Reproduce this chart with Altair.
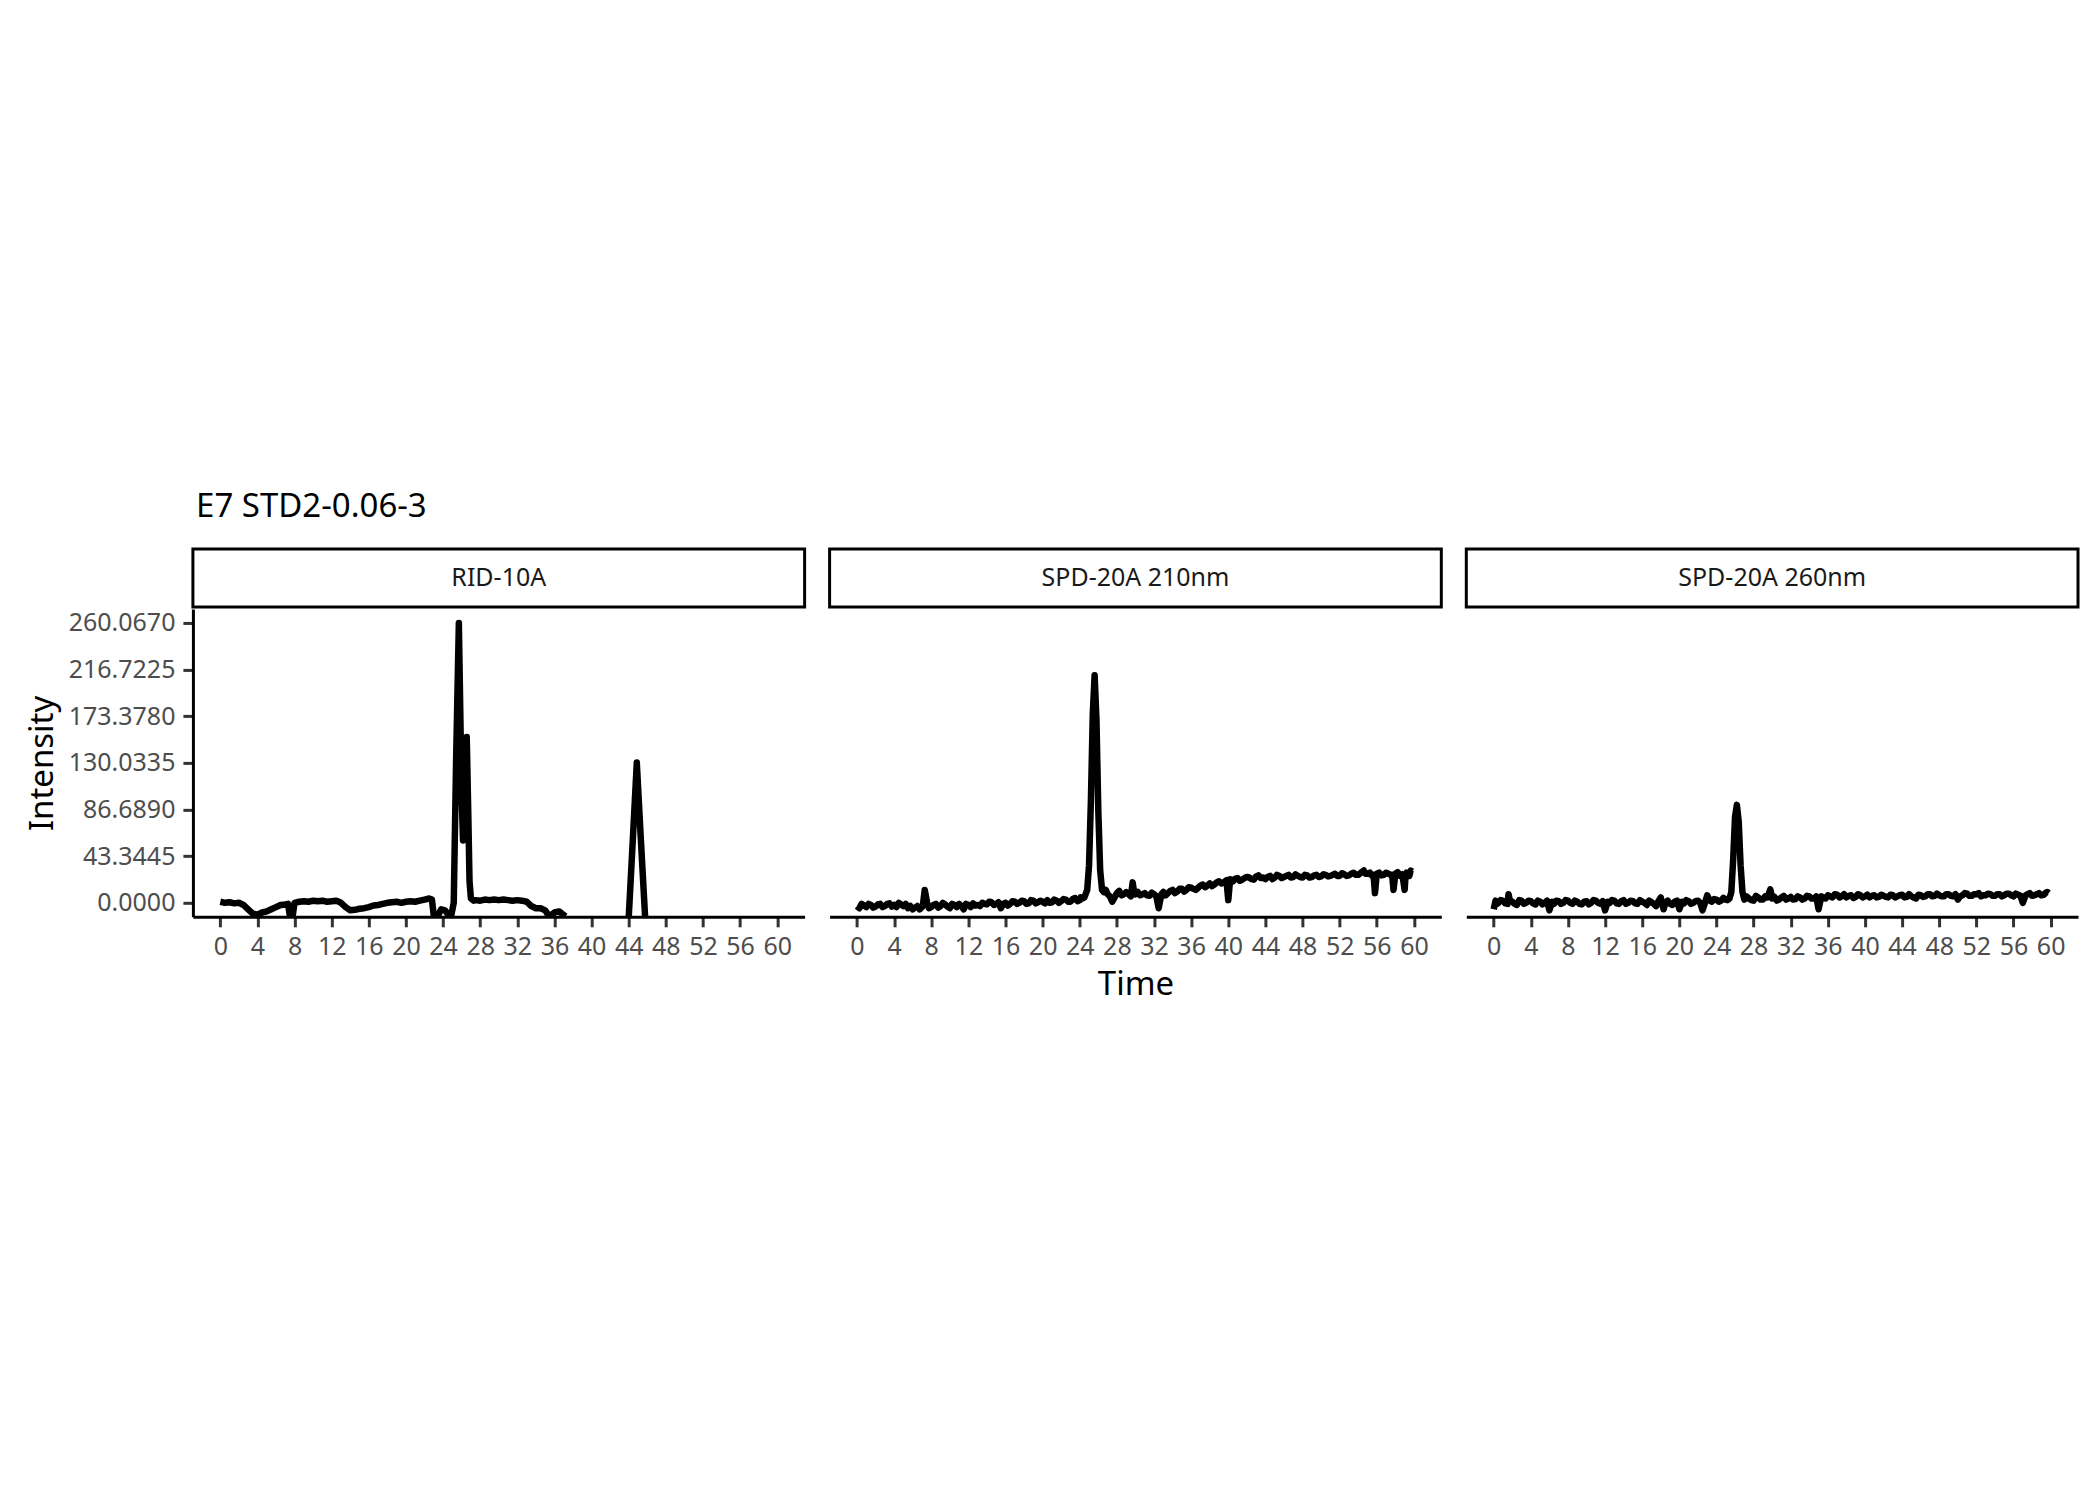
import altair as alt
import pandas as pd

FONT = "Noto Sans"

TITLE = "E7 STD2-0.06-3"
PANELS = ["RID-10A", "SPD-20A 210nm", "SPD-20A 260nm"]
X_TICKS = [0, 4, 8, 12, 16, 20, 24, 28, 32, 36, 40, 44, 48, 52, 56, 60]
Y_TICKS = [0.0, 43.3445, 86.689, 130.0335, 173.378, 216.7225, 260.067]

# RID-10A (two visible pieces; the rest lies below the plotted range)
RID_T = [0.0, 0.5, 1.0, 1.5, 2.0, 2.5, 3.0, 3.5, 4.0, 4.5, 5.0, 5.5, 6.0, 6.5, 7.0, 7.3, 7.5, 7.8,
         8.0, 8.5, 9.0, 9.5, 10.0, 10.5, 11.0, 11.5, 12.0, 12.5, 13.0, 13.5, 14.0, 14.5, 15.0, 15.5,
         16.0, 16.5, 17.0, 17.5, 18.0, 18.5, 19.0, 19.5, 20.0, 20.5, 21.0, 21.5, 22.0, 22.5, 22.8,
         23.0, 23.5, 23.8, 24.2, 24.6, 24.9, 25.15, 25.4, 25.7, 25.85, 26.0, 26.15, 26.3, 26.55,
         26.7, 26.85, 27.0, 27.3, 27.5, 28.0, 28.5, 29.0, 29.5, 30.0, 30.5, 31.0, 31.5, 32.0, 32.5,
         33.0, 33.5, 34.0, 34.5, 35.0, 35.3, 35.7, 36.0, 36.5, 36.8, 37.2,
         44.0, 44.45, 44.87, 45.3, 45.77]
RID_V = [1, 0, 0.5, -0.5, 0, -2, -6, -10, -11, -9, -8, -6, -4, -2, -1.5, -1, -12.5, -12,
         0, 1, 1.5, 1, 2, 1.5, 2, 1, 1.5, 2, 0, -4, -7, -6.5, -5.5, -5,
         -4, -2.5, -2, -1, 0, 0.5, 1, 0, 1, 1.5, 1, 2, 3, 4, 3,
         -12, -11, -6, -7, -11.5, -11, 0, 130, 260.067, 180, 100, 58, 100, 154,
         90, 20, 4, 2, 2.5, 2, 3, 2.5, 3, 2.5, 3, 2.5, 2, 2.5, 2,
         1, -3, -5, -5, -7, -11, -11, -9, -8, -10, -12.5,
         -13.5, 60, 130.3, 60, -13.5]
RID_SEG = [1] * 89 + [2] * 5

# SPD-20A 210nm
S210_T = [0.0, 0.5, 1.0, 1.5, 2.0, 2.5, 3.0, 3.5, 4.0, 4.5, 5.0, 5.5, 6.0, 6.5, 7.0, 7.3, 7.6,
          8.0, 8.5, 9.0, 9.5, 10.0, 10.5, 11.0, 11.5, 12.0, 12.5, 13.0, 13.5, 14.0, 14.5, 15.0,
          15.5, 16.0, 16.5, 17.0, 17.5, 18.0, 18.5, 19.0, 19.5, 20.0, 20.5, 21.0, 21.5, 22.0,
          22.5, 23.0, 23.5, 24.0, 24.3, 24.5, 24.8, 25.0, 25.2, 25.4, 25.6, 25.8, 26.0, 26.2,
          26.4, 26.6, 27.0, 27.5, 28.0, 28.5, 29.0, 29.5, 29.7, 30.0, 30.5, 31.0, 31.5, 32.0,
          32.5, 32.8, 33.0, 33.5, 34.0, 34.5, 35.0, 35.5, 36.0, 36.5, 37.0, 37.5, 38.0, 38.5,
          39.0, 39.5, 39.8, 40.0, 40.2, 40.5, 41.0, 41.5, 42.0, 42.5, 43.0, 43.5, 44.0, 44.5,
          45.0, 45.5, 46.0, 46.5, 47.0, 47.5, 48.0, 48.5, 49.0, 49.5, 50.0, 50.5, 51.0, 51.5,
          52.0, 52.5, 53.0, 53.5, 54.0, 54.6, 55.0, 55.5, 55.8, 56.0, 56.5, 57.0, 57.5, 57.8,
          58.0, 58.5, 59.0, 59.2, 59.5, 59.8]
S210_V = [-3, -1, -4, -2, -3.5, -1, -3, -0.5, -2, 0, -3, -5, -6, -3, -4, 12, -2,
          -4, -1, -3, -1.5, -5, -2, -1, -6, -2, -0.5, -2, 0, -1.5, 0.5, -1,
          -5, 0, -1, 1, 0, 1.5, -0.5, 2, 0.5, 1, 2.5, 0.5, 2, 1.5,
          3, 1, 4.5, 2.5, 4, 5, 12, 35, 95, 175, 211.5, 170, 85, 30,
          12, 10, 8, 1, 9, 7, 10, 6, 19, 8, 7, 9, 6.5, 8,
          -5, 8, 10, 9, 12, 10.5, 13, 12, 14, 12, 16, 14.5, 18, 17,
          20, 19, 21, 2.5, 22, 20, 23, 21.5, 24, 22, 24.5, 23, 22, 25,
          23.5, 25, 24, 26, 24, 25, 23.5, 25.5, 24, 26, 24.5, 26, 25, 27,
          25, 26.5, 25.5, 28, 26, 30, 27, 25, 9, 27, 25.5, 28, 26, 12,
          27, 25, 12, 28, 25, 29]
# in-between readings of the noisy 210nm baseline
S210_T2 = [0.25, 0.75, 1.25, 1.75, 2.25, 2.75, 3.25, 3.75, 4.25, 4.75, 5.25, 5.75, 6.25, 6.75,
           7.1, 7.75, 8.25, 8.75, 9.25, 9.75, 10.25, 10.75, 11.25, 11.75, 12.25, 12.75, 13.25,
           13.75, 14.25, 14.75, 15.25, 15.75, 16.25, 16.75, 17.25, 17.75, 18.25, 18.75, 19.25,
           19.75, 20.25, 20.75, 21.25, 21.75, 22.25, 22.75, 23.25, 23.75, 24.1,
           26.8, 27.25, 27.75, 28.25, 28.75, 29.25, 29.85, 30.25, 30.75, 31.25, 31.75, 32.25,
           33.25, 33.75, 34.25, 34.75, 35.25, 35.75, 36.25, 36.75, 37.25, 37.75, 38.25, 38.75,
           39.25, 39.65, 40.35, 40.75, 41.25, 41.75, 42.25, 42.75, 43.25, 43.75, 44.25, 44.75,
           45.25, 45.75, 46.25, 46.75, 47.25, 47.75, 48.25, 48.75, 49.25, 49.75, 50.25, 50.75,
           51.25, 51.75, 52.25, 52.75, 53.25, 53.75, 54.3, 54.8, 55.25, 55.65, 56.25, 56.75,
           57.25, 57.65, 58.25, 58.75, 59.1, 59.35, 59.65]
S210_V2 = [-5, -2.5, -1, -4.5, -1.5, -4, -1, -3.5, -4, -1.5, -1, -3, -4.5, -6,
           -2, -5, -2, -4.5, 0, -3.5, -1, -4, -3, -1, -4, -2.5, -3,
           -1, 1, -2, 0.5, -1, -2.5, 1.5, -1, 2, -1, 2.5, -0.5,
           2, -0.5, 0, 3, 0, 3.5, 1, 3.5, 1.5, 5,
           12, 6, 5, 11, 8, 8, 10, 10, 8, 7, 9.5, 6,
           7, 11, 9, 13, 10.5, 14.5, 13, 14, 17, 16, 15.5, 19,
           18, 20, 21, 22.5, 20.5, 23, 23.5, 21.5, 25.5, 23.5, 24, 22,
           26, 23, 25, 23.5, 26.5, 24, 26, 23.5, 25.5, 24, 26.5, 24.5,
           26, 25, 27.5, 25, 27, 26, 28, 27, 28, 26, 28, 26,
           27, 26, 28.5, 26.5, 26, 27, 30]

# SPD-20A 260nm
S260_T = [0.0, 0.2, 0.5, 1.0, 1.5, 1.6, 2.0, 2.5, 3.0, 3.5, 4.0, 4.5, 5.0, 5.5, 6.0, 6.3, 6.5,
          7.0, 7.5, 8.0, 8.5, 9.0, 9.5, 10.0, 10.5, 11.0, 11.5, 12.0, 12.3, 12.5, 13.0, 13.5,
          14.0, 14.5, 15.0, 15.5, 16.0, 16.5, 17.0, 17.5, 18.0, 18.3, 18.5, 19.0, 19.5, 20.0,
          20.3, 20.5, 21.0, 21.5, 22.0, 22.5, 22.8, 23.0, 23.3, 23.5, 24.0, 24.5, 25.0, 25.4,
          25.6, 25.8, 26.0, 26.2, 26.4, 26.6, 26.8, 27.0, 27.5, 28.0, 28.5, 29.0, 29.5, 29.8,
          30.0, 30.5, 31.0, 31.5, 32.0, 32.5, 33.0, 33.5, 34.0, 34.5, 35.0, 35.3, 35.5, 36.0,
          36.5, 37.0, 37.5, 38.0, 38.5, 39.0, 39.5, 40.0, 40.5, 41.0, 41.5, 42.0, 42.5, 43.0,
          43.5, 44.0, 44.5, 45.0, 45.5, 46.0, 46.5, 47.0, 47.5, 48.0, 48.5, 49.0, 49.5, 50.0,
          50.5, 51.0, 51.5, 52.0, 52.5, 53.0, 53.5, 54.0, 54.5, 55.0, 55.5, 56.0, 56.5, 57.0,
          57.3, 57.5, 58.0, 58.5, 59.0, 59.5, 59.8]
S260_V = [-6, 2, 0, 2, -1, 8, 1, -2, 2, 0, 1.5, -1.5, 1, 0, -7, 1, -1,
          1.5, 0, 2, -1, 1, -1.5, 1.5, 0, 2, -1, -7, 1, 0, 2, -1,
          2.5, 0, 1.5, -1, 1, -2, 0.5, -3, 5, -6, 0, -1, 1, -6,
          1, -0.5, 1.5, 0, 2, -7, 1, 7, 2, 1, 3, 2, 3, 4,
          10, 40, 80, 91, 75, 35, 10, 3, 4, 2, 5, 3, 5, 12.5,
          4, 2, 5, 3, 5.5, 3.5, 5, 4, 6, 4, -6, 6, 5, 7,
          5, 7.5, 6, 5, 7, 5.5, 7, 6, 5, 7, 5.5, 6.5, 5, 7,
          6, 7.5, 5.5, 6, 4, 7, 6, 8, 6.5, 7, 6, 8, 6, 3,
          7, 8.5, 6.5, 8, 6, 7, 8, 6.5, 8, 7, 8.5, 6, 7.5, 0,
          7, 8, 6.5, 8, 7, 9.5, 9]
# in-between readings of the noisy 260nm baseline
S260_T2 = [0.35, 0.75, 1.25, 1.75, 2.25, 2.75, 3.25, 3.75, 4.25, 4.75, 5.25, 5.75, 6.75, 7.25,
           7.75, 8.25, 8.75, 9.25, 9.75, 10.25, 10.75, 11.25, 11.75, 12.75, 13.25, 13.75, 14.25,
           14.75, 15.25, 15.75, 16.25, 16.75, 17.25, 17.75, 18.75, 19.25, 19.75, 20.75, 21.25,
           21.75, 22.25, 23.75, 24.25, 24.75, 25.2,
           27.25, 27.75, 28.25, 28.75, 29.25, 30.25, 30.75, 31.25, 31.75, 32.25, 32.75, 33.25,
           33.75, 34.25, 34.75, 35.75, 36.25, 36.75, 37.25, 37.75, 38.25, 38.75, 39.25, 39.75,
           40.25, 40.75, 41.25, 41.75, 42.25, 42.75, 43.25, 43.75, 44.25, 44.75, 45.25, 45.75,
           46.25, 46.75, 47.25, 47.75, 48.25, 48.75, 49.25, 49.75, 50.25, 50.75, 51.25, 51.75,
           52.25, 52.75, 53.25, 53.75, 54.25, 54.75, 55.25, 55.75, 56.25, 56.75, 57.75, 58.25,
           58.75, 59.25, 59.65]
S260_V2 = [-1, 2.5, -0.5, 2, -1, 2.5, -1, 2, -0.5, 2, -1.5, 2, 2, -1,
           2.5, 0, 2, -1, 1, -1.5, 2.5, 0, 1.5, 2.5, -0.5, 1.5, -1,
           2, -0.5, 2.5, 0, 2, -1, 1.5, 2, -2, 2, 2.5, -1,
           1.5, 0, 3.5, 1, 4.5, 2.5,
           6, 2.5, 6.5, 3, 6, 5.5, 3, 6.5, 4, 3, 6, 3,
           6.5, 4, 6, 4, 6, 8, 5, 8, 6.5, 4.5, 8, 5,
           7.5, 6.5, 5, 7.5, 5.5, 7.5, 5, 7, 5, 8, 5, 7.5,
           5.5, 8, 6, 8.5, 6, 8, 6.5, 8, 6, 9, 6.5, 8,
           9, 7, 8.5, 6.5, 8, 6, 8.5, 7, 8.5, 6.5, 9, 7,
           9, 7.5, 10]

W = 612
PH = 308
SH = 58
X_DOMAIN = [-2.95, 62.95]
Y_DOMAIN = [-13.0, 273.07]

frames = [
    pd.DataFrame({"Time": RID_T, "Intensity": RID_V, "seg": RID_SEG}),
    pd.DataFrame({"Time": S210_T + S210_T2, "Intensity": S210_V + S210_V2,
                  "seg": [1] * (len(S210_T) + len(S210_T2))}),
    pd.DataFrame({"Time": S260_T + S260_T2, "Intensity": S260_V + S260_V2,
                  "seg": [1] * (len(S260_T) + len(S260_T2))}),
]


def make_panel(i):
    label = PANELS[i]
    strip = (
        alt.Chart(pd.DataFrame({"label": [label]}))
        .mark_text(font=FONT, fontSize=25, color="#1A1A1A", baseline="middle", align="center")
        .encode(text="label:N", x=alt.value(W / 2), y=alt.value(SH / 2))
        .properties(width=W, height=SH,
                    view=alt.ViewBackground(stroke="black", strokeWidth=3, fill="white"))
    )
    x_axis = alt.Axis(values=X_TICKS, title="Time" if i == 1 else None, grid=False,
                      labelFlush=False)
    if i == 0:
        y_axis = alt.Axis(values=Y_TICKS, format=".4f", title="Intensity", grid=False,
                          titlePadding=9)
    else:
        y_axis = None
    plot = (
        alt.Chart(frames[i])
        .mark_line(color="black", strokeWidth=6.5, clip=True, strokeJoin="round")
        .encode(
            x=alt.X("Time:Q", scale=alt.Scale(domain=X_DOMAIN, nice=False, zero=False), axis=x_axis),
            y=alt.Y("Intensity:Q", scale=alt.Scale(domain=Y_DOMAIN, nice=False, zero=False), axis=y_axis),
            detail="seg:N",
        )
        .properties(width=W, height=PH)
    )
    return alt.vconcat(strip, plot, spacing=0)


chart = (
    alt.hconcat(*[make_panel(i) for i in range(3)], spacing=21)
    .properties(
        title=alt.TitleParams(TITLE, anchor="start", dx=170, fontSize=33, font=FONT,
                              fontWeight="normal", color="black", offset=23),
        padding={"left": 26, "top": 491, "right": 20, "bottom": 20},
        background="white",
    )
    .configure_view(stroke=None)
    .configure_axis(
        domainColor="black", domainWidth=3, tickColor="#333333", tickWidth=3, tickSize=10,
        labelColor="#4D4D4D", labelFontSize=25, labelFont=FONT, labelPadding=8,
        titleFont=FONT, titleFontSize=33, titleFontWeight="normal", titleColor="black",
    )
    .configure_axisX(titlePadding=9)
)

chart.save("out.html", embed_options={"renderer": "svg", "actions": False})
